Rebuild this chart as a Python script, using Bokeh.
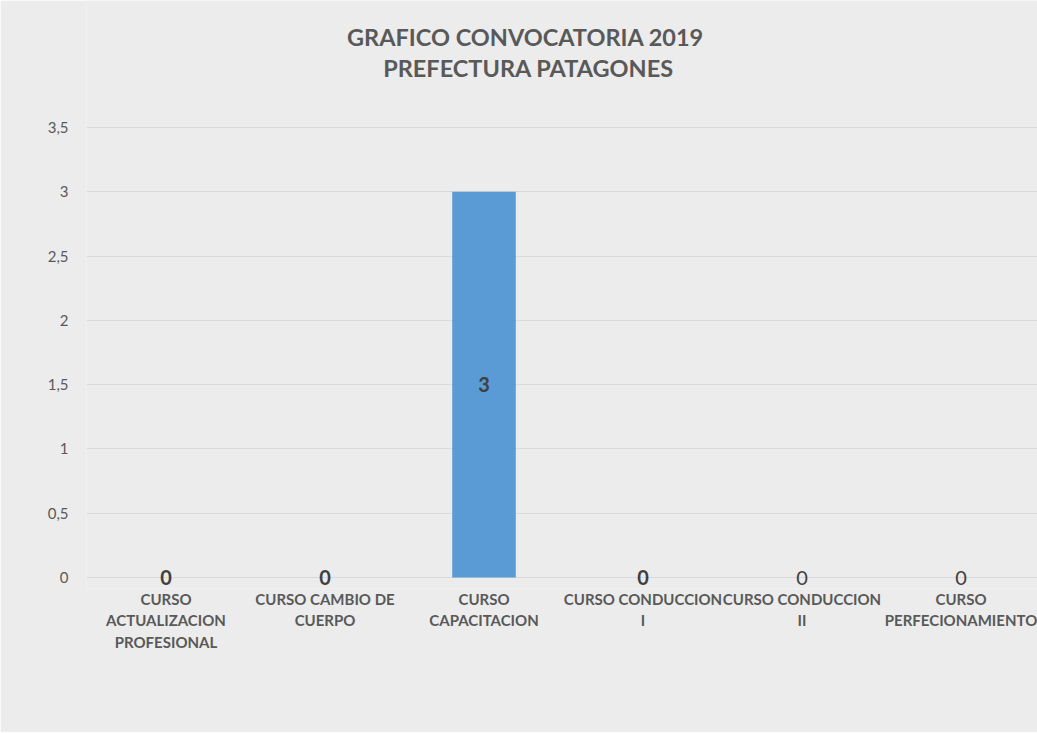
from bokeh.plotting import figure
from bokeh.models import FixedTicker, Label, ColumnDataSource, Range1d
from bokeh.embed import file_html
from bokeh.resources import INLINE
from bokeh.core.properties import value

# ---- data ----
categories = ["CURSO ACTUALIZACION PROFESIONAL", "CURSO CAMBIO DE CUERPO",
              "CURSO CAPACITACION", "CURSO CONDUCCION I",
              "CURSO CONDUCCION II", "CURSO PERFECIONAMIENTO"]
tick_labels = ["CURSO\nACTUALIZACION\nPROFESIONAL", "CURSO CAMBIO DE\nCUERPO",
               "CURSO\nCAPACITACION", "CURSO CONDUCCION\nI",
               "CURSO CONDUCCION\nII", "CURSO\nPERFECIONAMIENTO"]
values = [0, 0, 3, 0, 0, 0]
label_bold = [True, True, True, True, False, False]
y_ticks = [0, 0.5, 1, 1.5, 2, 2.5, 3, 3.5]
y_tick_labels = ["0", "0,5", "1", "1,5", "2", "2,5", "3", "3,5"]
title_lines = ["GRAFICO CONVOCATORIA 2019", "PREFECTURA PATAGONES"]

FONT = "Lato"
GRAY_BG = "#ececec"
TXT = "#595959"

xpos = [i + 0.5 for i in range(len(categories))]

# frame spans the whole upper area so the title can sit inside it
p = figure(width=1037, height=732, output_backend="svg", toolbar_location=None,
           x_range=Range1d(0, 5.981), y_range=Range1d(-0.0855, 4.4878),
           min_border_left=86, min_border_right=0, min_border_top=0,
           min_border_bottom=144)
p.background_fill_color = GRAY_BG
p.border_fill_color = GRAY_BG
p.outline_line_color = None

# two-line chart title
for txt, tx, ty in [(title_lines[0], 2.761, 4.207), (title_lines[1], 2.780, 3.966)]:
    p.add_layout(Label(text=txt, x=tx, y=ty,
                       text_align="center", text_baseline="alphabetic",
                       text_font=FONT, text_font_size="23.5px",
                       text_font_style="bold", text_color=TXT))

src = ColumnDataSource(dict(x=xpos, top=values, cat=categories))
p.vbar(x="x", top="top", bottom=0, width=0.4, source=src,
       fill_color="#5b9bd5", line_color=None)

bold_src = ColumnDataSource(dict(
    x=[x for x, b in zip(xpos, label_bold) if b],
    y=[v / 2 for v, b in zip(values, label_bold) if b],
    t=[str(v) for v, b in zip(values, label_bold) if b]))
norm_src = ColumnDataSource(dict(
    x=[x for x, b in zip(xpos, label_bold) if not b],
    y=[v / 2 for v, b in zip(values, label_bold) if not b],
    t=[str(v) for v, b in zip(values, label_bold) if not b]))
p.text(x="x", y="y", text="t", source=bold_src, text_align="center",
       text_baseline="middle", text_font=value(FONT), text_font_size="20px",
       text_font_style="bold", text_color="#404040")
p.text(x="x", y="y", text="t", source=norm_src, text_align="center",
       text_baseline="middle", text_font=value(FONT), text_font_size="20px",
       text_font_style="normal", text_color="#404040")

# axes
p.xaxis.ticker = FixedTicker(ticks=xpos)
p.xaxis.major_label_overrides = {x: t for x, t in zip(xpos, tick_labels)}
p.xaxis.axis_line_color = None
p.xaxis.major_tick_line_color = None
p.xaxis.minor_tick_line_color = None
p.xaxis.major_tick_in = 0
p.xaxis.major_tick_out = 0
p.xaxis.major_label_standoff = 1
p.xaxis.major_label_text_font = FONT
p.xaxis.major_label_text_font_size = "15px"
p.xaxis.major_label_text_font_style = "bold"
p.xaxis.major_label_text_color = TXT
p.xaxis.major_label_text_line_height = 1.2

p.yaxis.ticker = FixedTicker(ticks=y_ticks)
p.yaxis.major_label_overrides = {t: l for t, l in zip(y_ticks, y_tick_labels)}
p.yaxis.axis_line_color = None
p.yaxis.major_tick_line_color = None
p.yaxis.minor_tick_line_color = None
p.yaxis.major_tick_in = 0
p.yaxis.major_tick_out = 0
p.yaxis.major_label_standoff = 18
p.yaxis.major_label_text_font = FONT
p.yaxis.major_label_text_font_size = "15px"
p.yaxis.major_label_text_color = TXT

p.xgrid.grid_line_color = None
p.ygrid.grid_line_color = "#d9d9d9"
p.ygrid.grid_line_width = 1

open("out.html", "w").write(file_html(p, INLINE))
